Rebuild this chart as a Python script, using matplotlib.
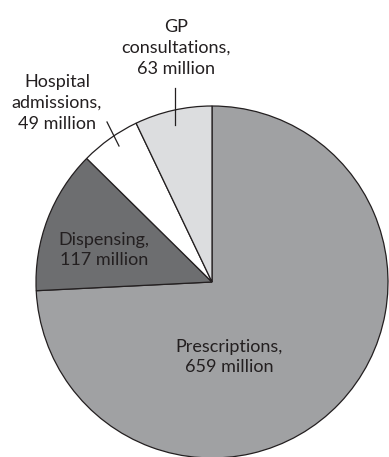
import matplotlib.pyplot as plt

labels = ["Prescriptions,\n659 million", "Dispensing,\n117 million",
          "Hospital\nadmissions,\n49 million", "GP\nconsultations,\n63 million"]
values = [659, 117, 49, 63]
colors = ["#a0a1a3", "#6d6e70", "#ffffff", "#dcdddf"]

W, H = 389, 457
fig = plt.figure(figsize=(W / 100, H / 100), dpi=100)
ax = fig.add_axes([0, 0, 1, 1])

cx, cy, r = 212, H - 282, 176
ax.pie(values, colors=colors, startangle=90, counterclock=False,
       center=(cx, cy), radius=r, frame=True,
       wedgeprops=dict(edgecolor="#231f20", linewidth=0.9))
ax.set_xlim(0, W)
ax.set_ylim(0, H)
ax.set_aspect("equal")
ax.axis("off")

font = dict(family="Lato", fontsize=13, color="#231f20",
            ha="center", va="center", linespacing=1.38)
# inside labels
ax.text(229, H - 357, labels[0], **font)
ax.text(104, H - 250, labels[1], **font)
# outside labels with leader lines
ax.text(57, H - 103, labels[2], **font)
ax.plot([107, 119], [H - 122, H - 146], color="#231f20", lw=0.9)
ax.text(176, H - 48, labels[3], **font)
ax.plot([175, 175], [H - 88, H - 125], color="#231f20", lw=0.9)

fig.savefig("out.png", dpi=100)
